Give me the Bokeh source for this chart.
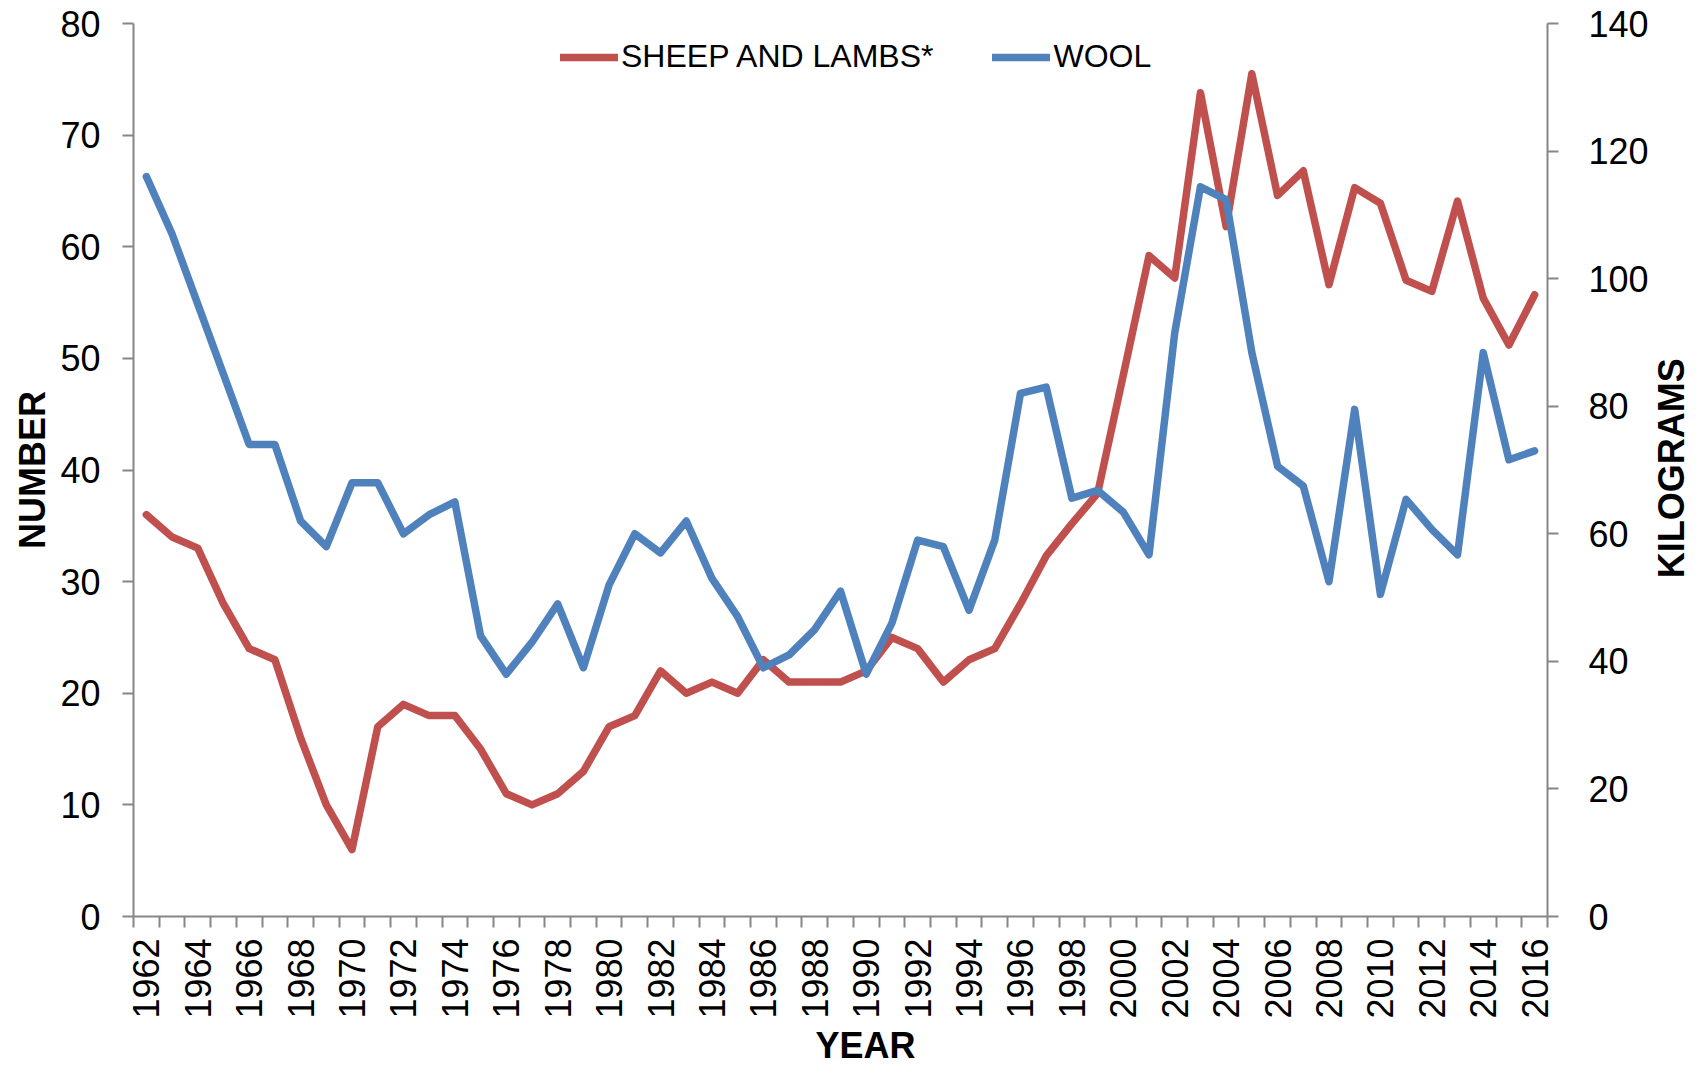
import math
from bokeh.plotting import figure
from bokeh.models import (Range1d, LinearAxis, FixedTicker, Legend, LegendItem)
from bokeh.layouts import row
from bokeh.core.properties import value
from bokeh.embed import file_html
from bokeh.resources import INLINE

years = list(range(1962, 2017))
sheep = [36, 34, 33, 28, 24, 23, 16, 10, 6, 17,
         19, 18, 18, 15, 11, 10, 11, 13, 17, 18,
         22, 20, 21, 20, 23, 21, 21, 21, 22, 25,
         24, 21, 23, 24, 28, 32.3, 35.2, 37.9, 48.5, 59.2,
         57.2, 73.8, 61.8, 75.5, 64.6, 66.8, 56.6, 65.3, 63.9, 57.0,
         56.0, 64.1, 55.4, 51.2, 55.7]
wool = [116, 107, 96, 85, 74, 74, 62, 58, 68, 68,
        60, 63, 65, 44, 38, 43, 49, 39, 52, 60,
        57, 62, 53, 47, 39, 41, 45, 51, 38, 46,
        59, 58, 48, 59, 82, 83, 65.6, 66.8, 63.4, 56.7,
        91.5, 114.4, 112.4, 88.4, 70.6, 67.5, 52.5, 79.5, 50.5, 65.4,
        60.7, 56.7, 88.4, 71.6, 73.0]
left_ticks = list(range(0, 81, 10))
right_ticks = list(range(0, 141, 20))
year_labels = [y for y in years if y % 2 == 0]

FONT = "Liberation Sans"
RED = "#C0504D"
BLUE = "#4F81BD"
AXC = "#868686"
NBSP = "\u00a0"

W1, W2, H = 1652, 44, 1068
p = figure(width=W1, height=H, output_backend="svg", toolbar_location=None,
           x_range=Range1d(years[0] - 0.5, years[-1] + 0.5),
           y_range=Range1d(0, 80),
           min_border_left=133, min_border_right=W1 - 133 - 1414,
           min_border_top=23, min_border_bottom=H - 23 - 894)
p.extra_y_ranges = {"kg": Range1d(0, 140)}
p.outline_line_color = None
p.xgrid.grid_line_color = None
p.ygrid.grid_line_color = None


def style_axis(ax):
    ax.axis_line_color = AXC
    ax.axis_line_width = 2
    ax.major_label_text_font = FONT
    ax.major_label_text_font_size = "36px"
    ax.major_label_text_color = "black"
    ax.axis_label_text_font = FONT
    ax.axis_label_text_font_size = "36px"
    ax.axis_label_text_font_style = "bold"
    ax.axis_label_text_color = "black"


# x axis
xa = p.xaxis[0]
style_axis(xa)
xa.ticker = FixedTicker(ticks=year_labels,
                        minor_ticks=[y - 0.5 for y in years] + [years[-1] + 0.5])
xa.major_tick_line_color = None
xa.major_tick_out = 11
xa.major_tick_in = 0
xa.minor_tick_line_color = AXC
xa.minor_tick_line_width = 2
xa.minor_tick_out = 11
xa.minor_tick_in = 0
xa.major_label_orientation = math.pi / 2
xa.major_label_standoff = 11
xa.axis_label = NBSP * 5 + "YEAR"
xa.axis_label_standoff = 3

# left axis
ya = p.yaxis[0]
style_axis(ya)
ya.ticker = FixedTicker(ticks=left_ticks)
ya.major_tick_out = 11
ya.major_tick_in = 0
ya.minor_tick_line_color = None
ya.major_tick_line_color = AXC
ya.major_tick_line_width = 2
ya.major_label_standoff = 22
ya.axis_label = "NUMBER"
ya.axis_label_standoff = 4

# right axis
ra = LinearAxis(y_range_name="kg", ticker=FixedTicker(ticks=right_ticks))
style_axis(ra)
ra.major_tick_out = 11
ra.major_tick_in = 0
ra.minor_tick_line_color = None
ra.major_tick_line_color = AXC
ra.major_tick_line_width = 2
ra.major_label_standoff = 30
p.add_layout(ra, "right")

r1 = p.line(years, sheep, line_color=RED, line_width=7.5,
            line_join="round", line_cap="round")
r2 = p.line(years, wool, line_color=BLUE, line_width=7.5,
            line_join="round", line_cap="round", y_range_name="kg")

legend = Legend(items=[LegendItem(label="SHEEP AND LAMBS*", renderers=[r1]),
                       LegendItem(label="WOOL", renderers=[r2])],
                orientation="horizontal", location=(427, 841),
                label_text_font=FONT, label_text_font_size="32px",
                label_text_color="black",
                glyph_width=58, glyph_height=30, label_standoff=3,
                spacing=59, padding=0, margin=0,
                border_line_color=None, background_fill_alpha=0)
p.add_layout(legend, "center")

# right-hand axis title, reading upward, in a narrow strip beside the chart
p2 = figure(width=W2, height=H, output_backend="svg", toolbar_location=None,
            x_range=Range1d(0, W2), y_range=Range1d(H, 0),
            x_axis_type=None, y_axis_type=None,
            min_border=0, min_border_left=0, min_border_right=0,
            min_border_top=0, min_border_bottom=0)
p2.outline_line_color = None
p2.xgrid.grid_line_color = None
p2.ygrid.grid_line_color = None
p2.text(x=[1671 - W1], y=[532], text=["KILOGRAMS"], angle=math.pi / 2,
        text_font=value(FONT), text_font_size="36px", text_font_style="bold",
        text_color="black", text_align="center", text_baseline="middle")

layout = row(p, p2, spacing=0)
open("out.html", "w").write(file_html(layout, INLINE))
